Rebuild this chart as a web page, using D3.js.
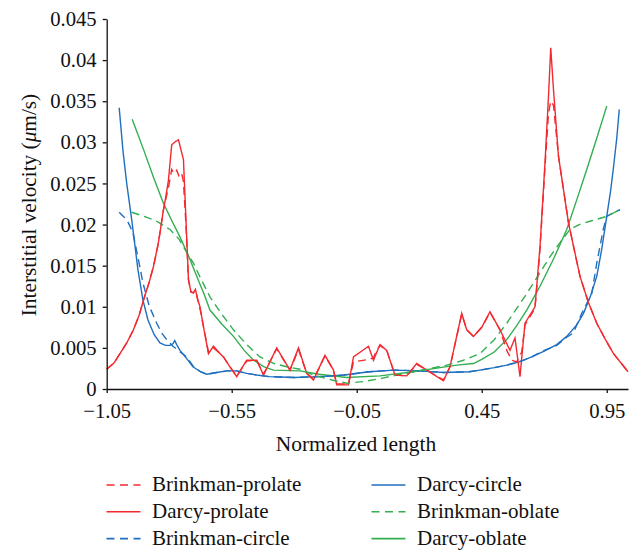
<!DOCTYPE html>
<html>
<head>
<meta charset="utf-8">
<script src="https://cdn.jsdelivr.net/npm/d3@7"></script>
<style>
  body { margin: 0; background: #fff; }
  text { font-family: "Liberation Serif", "DejaVu Serif", serif; fill: #111; }
</style>
</head>
<body>
<div id="chart"></div>
<script>
// tick values
var xTicks = [-1.05, -0.55, -0.05, 0.45, 0.95];
var yTicks = [0, 0.005, 0.01, 0.015, 0.02, 0.025, 0.03, 0.035, 0.04, 0.045];

// series, [normalized length, velocity]
var brinkmanProlate = [[-1.05,0.0024],[-1.02,0.0032],[-0.997,0.0043],[-0.97,0.0056],[-0.943,0.0072],[-0.92,0.009],[-0.903,0.0108],[-0.88,0.013],[-0.863,0.0149],[-0.845,0.0175],[-0.837,0.019],[-0.823,0.0218],[-0.813,0.0232],[-0.803,0.0245],[-0.79,0.0267],[-0.78,0.0262],[-0.77,0.0266],[-0.76,0.0258],[-0.75,0.0262],[-0.743,0.0252],[-0.733,0.02],[-0.723,0.0133],[-0.713,0.0118],[-0.703,0.0117],[-0.695,0.0121],[-0.687,0.011],[-0.677,0.0098],[-0.663,0.0076],[-0.643,0.0045],[-0.623,0.005],[-0.6,0.0044],[-0.583,0.0039],[-0.557,0.0027],[-0.53,0.0016],[-0.49,0.0034],[-0.45,0.0035],[-0.423,0.0018],[-0.37,0.0049],[-0.317,0.0023],[-0.283,0.0048],[-0.25,0.0019],[-0.223,0.0012],[-0.2,0.0026],[-0.177,0.004],[-0.143,0.0023],[-0.13,0.0006],[-0.083,0.0006],[-0.063,0.0033],[0.0,0.0036],[0.017,0.0038],[0.03,0.0047],[0.043,0.0053],[0.07,0.0047],[0.103,0.0017],[0.15,0.0016],[0.19,0.003],[0.23,0.0023],[0.297,0.0011],[0.323,0.0027],[0.37,0.0091],[0.39,0.0072],[0.417,0.0064],[0.45,0.0075],[0.483,0.0093],[0.523,0.0072],[0.55,0.0047],[0.57,0.0035],[0.59,0.0033],[0.61,0.0045],[0.623,0.0078],[0.663,0.0098],[0.683,0.017],[0.703,0.027],[0.717,0.0335],[0.726,0.035],[0.737,0.0345],[0.757,0.0283],[0.797,0.0202],[0.843,0.0137],[0.877,0.0105],[0.91,0.008],[0.945,0.006],[0.977,0.0043],[1.035,0.0021]];

var darcyProlate = [[-1.05,0.0024],[-1.02,0.0032],[-0.997,0.0043],[-0.97,0.0056],[-0.943,0.0072],[-0.92,0.009],[-0.903,0.0108],[-0.88,0.013],[-0.863,0.0149],[-0.845,0.0175],[-0.837,0.019],[-0.823,0.0218],[-0.813,0.0235],[-0.803,0.0254],[-0.79,0.0297],[-0.775,0.0301],[-0.763,0.0303],[-0.743,0.0279],[-0.733,0.0206],[-0.723,0.0133],[-0.713,0.0118],[-0.703,0.0117],[-0.695,0.0121],[-0.687,0.011],[-0.677,0.01],[-0.663,0.0076],[-0.643,0.0043],[-0.623,0.0052],[-0.6,0.0044],[-0.583,0.0039],[-0.557,0.0027],[-0.53,0.0015],[-0.49,0.0035],[-0.45,0.0035],[-0.423,0.0017],[-0.37,0.005],[-0.317,0.0023],[-0.283,0.005],[-0.25,0.0019],[-0.223,0.0011],[-0.2,0.0026],[-0.177,0.0041],[-0.143,0.0023],[-0.13,0.0005],[-0.083,0.0005],[-0.063,0.0039],[-0.003,0.0052],[0.017,0.0035],[0.043,0.0054],[0.07,0.0047],[0.103,0.0017],[0.15,0.0016],[0.19,0.0031],[0.23,0.0023],[0.297,0.001],[0.323,0.0027],[0.37,0.0092],[0.39,0.0072],[0.417,0.0064],[0.45,0.0075],[0.483,0.0094],[0.523,0.0072],[0.563,0.0047],[0.583,0.0062],[0.603,0.0015],[0.623,0.008],[0.663,0.01],[0.683,0.0173],[0.703,0.0275],[0.717,0.0356],[0.726,0.0415],[0.737,0.0364],[0.757,0.0283],[0.797,0.0202],[0.843,0.0137],[0.877,0.0105],[0.91,0.008],[0.945,0.006],[0.977,0.0043],[1.035,0.0021]];

var brinkmanCircle = [[-1.0,0.0215],[-0.98,0.0209],[-0.963,0.0202],[-0.945,0.019],[-0.925,0.016],[-0.905,0.0129],[-0.88,0.0101],[-0.85,0.008],[-0.83,0.0068],[-0.81,0.006],[-0.785,0.0052],[-0.76,0.0046],[-0.73,0.0039],[-0.705,0.0028],[-0.675,0.0021],[-0.65,0.0018],[-0.61,0.002],[-0.57,0.0022],[-0.53,0.0022],[-0.49,0.0019],[-0.45,0.0017],[-0.4,0.0015],[-0.357,0.00146],[-0.3,0.0014],[-0.2,0.0015],[-0.1,0.0017],[0.0,0.0021],[0.1,0.0023],[0.2,0.0022],[0.3,0.002],[0.4,0.0021],[0.443,0.0023],[0.5,0.0026],[0.55,0.0029],[0.6,0.0033],[0.65,0.0039],[0.7,0.0047],[0.75,0.0053],[0.79,0.0063],[0.816,0.0068],[0.85,0.0092],[0.87,0.0104],[0.89,0.0116],[0.91,0.0153],[0.936,0.0194],[0.95,0.021],[0.975,0.0214],[1.003,0.0218]];

var darcyCircle = [[-1.0,0.0342],[-0.985,0.029],[-0.97,0.025],[-0.95,0.0206],[-0.925,0.0145],[-0.905,0.0108],[-0.885,0.0084],[-0.86,0.0066],[-0.837,0.0056],[-0.815,0.0053],[-0.797,0.0053],[-0.785,0.0055],[-0.778,0.0059],[-0.77,0.0054],[-0.757,0.0047],[-0.73,0.0037],[-0.705,0.0027],[-0.675,0.0021],[-0.65,0.0018],[-0.61,0.002],[-0.57,0.0022],[-0.53,0.0022],[-0.49,0.0019],[-0.45,0.0017],[-0.4,0.0015],[-0.357,0.00146],[-0.3,0.0014],[-0.2,0.0015],[-0.1,0.0017],[0.0,0.0021],[0.1,0.0023],[0.2,0.0022],[0.3,0.002],[0.4,0.0021],[0.443,0.0023],[0.5,0.0026],[0.55,0.0029],[0.6,0.0033],[0.65,0.0039],[0.7,0.0046],[0.75,0.0054],[0.79,0.0064],[0.83,0.0078],[0.857,0.0092],[0.885,0.0113],[0.91,0.0137],[0.93,0.017],[0.95,0.021],[0.965,0.024],[0.976,0.0267],[0.99,0.0305],[1.0,0.034]];

var brinkmanOblate = [[-0.95,0.0215],[-0.9,0.021],[-0.85,0.0204],[-0.797,0.0194],[-0.76,0.0182],[-0.73,0.0166],[-0.703,0.0153],[-0.67,0.0132],[-0.637,0.0112],[-0.59,0.0091],[-0.543,0.0072],[-0.49,0.0054],[-0.437,0.0039],[-0.38,0.0031],[-0.33,0.0027],[-0.277,0.0024],[-0.223,0.0017],[-0.15,0.0011],[-0.09,0.0007],[-0.023,0.0009],[0.05,0.0013],[0.11,0.0017],[0.18,0.0021],[0.243,0.0025],[0.31,0.0029],[0.377,0.0035],[0.443,0.0043],[0.5,0.006],[0.55,0.008],[0.59,0.0098],[0.63,0.0116],[0.68,0.014],[0.723,0.0161],[0.763,0.0178],[0.803,0.0194],[0.84,0.02],[0.883,0.0204],[0.95,0.021],[1.003,0.0218]];

var darcyOblate = [[-0.948,0.0328],[-0.9,0.0289],[-0.86,0.0255],[-0.823,0.0226],[-0.79,0.0205],[-0.757,0.0185],[-0.72,0.016],[-0.69,0.0137],[-0.66,0.0115],[-0.637,0.0096],[-0.59,0.0079],[-0.543,0.0064],[-0.5,0.0047],[-0.463,0.0035],[-0.42,0.0027],[-0.383,0.0023],[-0.277,0.0022],[-0.2,0.0018],[-0.09,0.0014],[0.043,0.0016],[0.177,0.0021],[0.283,0.0026],[0.35,0.0029],[0.417,0.0031],[0.45,0.0036],[0.5,0.0045],[0.55,0.006],[0.59,0.0077],[0.63,0.0096],[0.683,0.0125],[0.74,0.016],[0.79,0.0194],[0.83,0.023],[0.87,0.0267],[0.91,0.0305],[0.95,0.0344]];

var red = "#f22a2f", blue = "#1f6fbf", green = "#33ae50";

// drawing order and legend order
var series = [
    { name: "Brinkman-prolate", data: brinkmanProlate, color: red, dash: true },
    { name: "Darcy-prolate", data: darcyProlate, color: red, dash: false },
    { name: "Brinkman-circle", data: brinkmanCircle, color: blue, dash: true },
    { name: "Darcy-circle", data: darcyCircle, color: blue, dash: false },
    { name: "Brinkman-oblate", data: brinkmanOblate, color: green, dash: true },
    { name: "Darcy-oblate", data: darcyOblate, color: green, dash: false }
];

var W = 629, H = 550;
var margin = { top: 19, right: 1, bottom: 161, left: 106.7 };
var width = W - margin.left - margin.right,
    height = H - margin.top - margin.bottom;

var svg = d3.select("#chart")
    .append("svg")
    .attr("width", W)
    .attr("height", H);

var g = svg.append("g")
    .attr("transform", "translate(" + margin.left + "," + margin.top + ")");

var x = d3.scaleLinear()
    .domain([-1.05, 1.035])
    .range([0, width]);

var y = d3.scaleLinear()
    .domain([0, 0.045])
    .range([height, 0]);

var line = d3.line()
    .x(function (d) { return x(d[0]); })
    .y(function (d) { return y(d[1]); });

// lines: solid ones under dashed ones
var order = [3, 5, 1, 2, 4, 0];
order.forEach(function (i) {
    var s = series[i];
    g.append("path")
        .datum(s.data)
        .attr("fill", "none")
        .attr("stroke", s.color)
        .attr("stroke-width", 1.4)
        .attr("stroke-dasharray", s.dash ? "8,5" : null)
        .attr("d", line);
});

// axes
var xAxis = g.append("g")
    .attr("transform", "translate(0," + height + ")")
    .call(d3.axisBottom(x).tickValues(xTicks).tickSize(4).tickSizeOuter(0).tickPadding(10)
        .tickFormat(d3.format(".2f")));

var yAxis = g.append("g")
    .call(d3.axisLeft(y).tickValues(yTicks).tickSize(4).tickSizeOuter(0).tickPadding(6)
        .tickFormat(function (d) { return d === 0 ? "0" : String(+d.toFixed(3)); }));

[xAxis, yAxis].forEach(function (a) {
    a.selectAll("path, line").attr("stroke", "#111").attr("stroke-width", 1.3);
    a.selectAll("text")
        .style("font-family", "'Liberation Serif', 'DejaVu Serif', serif")
        .style("font-size", "20.7px")
        .attr("fill", "#111");
});

// axis titles
svg.append("text")
    .attr("x", 356)
    .attr("y", 451)
    .attr("text-anchor", "middle")
    .style("font-size", "21.5px")
    .text("Normalized length");

var yTitle = svg.append("text")
    .attr("transform", "translate(36,205) rotate(-90)")
    .attr("text-anchor", "middle")
    .style("font-size", "21.3px");
yTitle.append("tspan").text("Interstitial velocity (");
yTitle.append("tspan").style("font-style", "italic").text("\u03bc");
yTitle.append("tspan").text("m/s)");

// legend, two columns of three
var legend = svg.append("g");
series.forEach(function (s, i) {
    var col = Math.floor(i / 3), row = i % 3;
    var lx = col === 0 ? 106.5 : 371.5;
    var ly = 485 + row * 26.8;
    legend.append("line")
        .attr("x1", lx).attr("x2", lx + 34)
        .attr("y1", ly).attr("y2", ly)
        .attr("stroke", s.color)
        .attr("stroke-width", 1.6)
        .attr("stroke-dasharray", s.dash ? "8,5.5" : null);
    legend.append("text")
        .attr("x", lx + 45.5)
        .attr("y", ly + 6.3)
        .style("font-size", "21px")
        .text(s.name);
});
</script>
</body>
</html>
